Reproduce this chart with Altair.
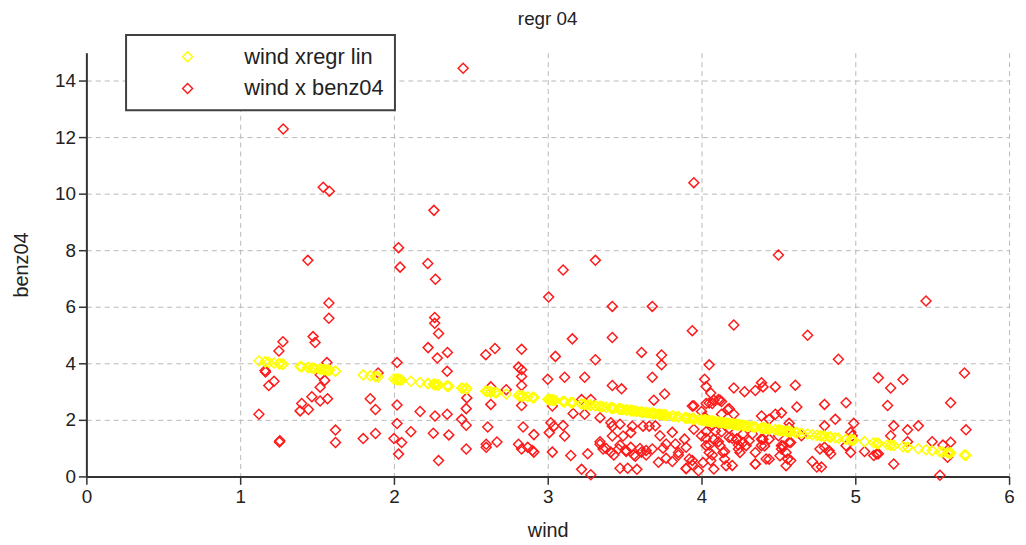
import altair as alt
import pandas as pd

# ---- data ----
wind = [
    2.45, 1.28, 1.54, 1.58, 3.95, 2.26, 1.44, 2.03, 2.04, 2.22, 2.27, 3.10, 3.31, 4.50,
    1.577, 1.577, 2.265, 2.265, 2.29, 1.278, 1.252, 1.474, 1.487, 2.222, 2.348, 2.282, 1.564, 2.02,
    1.162, 1.165, 2.346, 1.22, 1.186, 1.52, 1.55, 1.52, 1.897, 2.474, 1.466, 1.52, 1.568, 1.40,
    1.39, 1.444, 1.846, 1.88, 2.02, 2.17, 2.267, 2.346, 2.47, 2.44, 2.47, 1.122, 1.62, 1.62,
    2.02, 1.255, 1.258, 1.80, 1.88, 2.0, 2.05, 2.03, 2.11, 2.256, 2.357, 2.29, 2.47,
    3.006, 3.42, 3.68, 3.16, 3.42, 2.657, 2.597, 2.83, 3.05, 3.31, 3.61, 3.74, 2.81, 2.83,
    2.83, 2.83, 3.0, 3.11, 3.24, 3.68, 3.42, 3.48, 2.63, 2.73, 2.63, 2.83, 3.03, 3.22,
    3.28, 3.69, 3.165, 3.24, 3.34, 3.41, 2.61, 2.84, 3.02, 3.04, 3.10, 3.01, 3.11, 2.91,
    3.42, 3.42, 3.47, 3.55, 3.62, 3.66, 3.49, 3.54, 2.67, 2.6, 2.6, 2.81, 2.83, 2.87,
    2.9, 2.91, 3.03, 3.15, 3.26, 3.34, 3.36, 3.41, 3.46, 3.51, 3.54, 3.57, 3.61, 3.64,
    3.68, 3.22, 3.28, 3.47, 3.52, 3.58,
    3.94, 4.21, 3.74, 4.05, 4.02, 4.03, 4.06, 4.11, 4.13, 3.76, 3.94, 4.03, 4.07, 4.21,
    4.28, 4.35, 4.39, 4.40, 4.48, 4.17, 4.13, 4.39, 4.44, 4.48, 4.52,
    3.70, 3.73, 3.77, 3.81, 3.83, 3.85, 3.89, 3.90, 3.92, 3.90, 3.94, 3.95, 4.00, 4.03,
    4.05, 4.06, 4.08, 4.09, 4.12, 4.14, 4.15, 4.18, 4.20, 4.23, 4.24, 4.27, 4.29, 4.33,
    4.35, 4.39, 4.39, 4.42, 4.44, 4.50, 4.52, 4.56, 4.57,
    5.46, 4.69, 4.89, 5.71, 5.15, 5.31, 5.23, 4.61, 4.62, 4.80, 4.94, 5.21, 5.62, 4.57,
    4.57, 4.87, 4.80, 4.99, 5.25, 5.34, 5.41, 5.72, 5.23, 4.97, 5.34, 5.50, 5.57, 5.62,
    5.61, 5.60, 4.77, 4.80, 4.83, 4.84, 4.58, 4.72, 4.75, 4.78, 4.94, 4.97, 5.06, 5.12,
    5.15, 5.25, 5.55, 4.52, 4.55, 4.65, 5.14, 4.98,
    3.77, 3.81, 3.85, 3.90, 3.94, 4.03, 4.05, 4.07, 4.11, 4.15, 4.20, 4.24, 4.03, 4.07,
    4.13, 4.18, 3.98, 4.00, 4.02, 4.04,
    3.34, 3.38, 3.43, 3.47, 3.51, 3.56, 3.60, 3.64, 3.72, 3.75,
    4.23, 4.27, 4.31, 4.40, 4.41, 4.35, 4.25, 4.16, 4.08, 4.01, 4.35, 4.44, 4.51, 4.53,
    4.58, 4.55, 4.05, 4.08, 4.12, 4.18, 4.21, 3.95,
]
benz04 = [
    14.45, 12.3, 10.24, 10.1, 10.4, 9.42, 7.65, 8.1, 7.41, 7.54, 6.98, 7.31, 7.65, 7.84,
    6.14, 5.6, 5.63, 5.42, 5.06, 4.77, 4.44, 4.95, 4.74, 4.56, 4.39, 4.19, 4.03, 4.03,
    3.75, 3.70, 3.72, 3.37, 3.22, 3.6, 3.4, 3.16, 3.66, 2.78, 2.82, 2.67, 2.75, 2.58,
    2.32, 2.37, 2.75, 2.37, 2.53, 2.30, 2.14, 2.2, 2.40, 2.02, 1.81, 2.2, 1.64, 1.2,
    1.87, 1.22, 1.26, 1.34, 1.52, 1.34, 1.2, 0.79, 1.58, 1.53, 1.47, 0.56, 0.97,
    6.35, 6.02, 6.02, 4.87, 4.92, 4.53, 4.31, 4.5, 4.25, 4.13, 4.39, 3.95, 3.87, 3.78,
    3.54, 3.22, 3.44, 3.51, 3.51, 3.51, 3.22, 3.1, 3.17, 3.07, 2.55, 2.51, 2.49, 2.72,
    2.72, 2.7, 2.23, 2.2, 2.08, 1.9, 1.75, 1.75, 1.9, 1.78, 1.8, 1.55, 1.43, 1.48,
    1.78, 1.43, 1.85, 1.78, 1.78, 1.78, 1.43, 1.55, 1.22, 1.14, 1.03, 1.14, 0.97, 1.03,
    0.92, 0.86, 0.86, 0.74, 0.8, 1.14, 0.97, 0.86, 0.97, 0.92, 1.03, 0.71, 0.86, 0.92,
    0.97, 0.25, 0.06, 0.29, 0.29, 0.25,
    5.16, 5.36, 4.3, 3.95, 3.44, 3.18, 2.95, 2.72, 2.65, 2.92, 2.49, 2.58, 2.58, 3.13,
    3.0, 3.04, 3.32, 3.17, 3.17, 2.37, 2.2, 2.14, 2.02, 2.2, 2.25,
    1.79, 1.44, 1.15, 1.56, 1.15, 0.85, 1.32, 1.03, 0.62, 0.27, 0.56, 1.67, 1.44, 1.09,
    0.85, 0.56, 1.32, 1.61, 1.09, 0.85, 0.62, 1.38, 0.39, 1.32, 0.97, 1.50, 1.09, 1.50,
    0.44, 1.32, 1.09, 0.62, 1.32, 1.44, 0.97, 0.62, 1.73,
    6.21, 5.0, 4.15, 3.66, 3.49, 3.43, 3.13, 3.23, 2.46, 2.55, 2.61, 2.51, 2.61, 1.88,
    1.21, 2.02, 1.79, 1.88, 1.79, 1.65, 1.79, 1.65, 1.44, 1.56, 1.23, 1.23, 1.11, 1.21,
    0.85, 0.68, 0.97, 1.03, 0.91, 0.80, 0.56, 0.53, 0.33, 0.33, 1.09, 0.85, 0.88, 0.74,
    0.80, 0.44, 0.04, 1.09, 0.85, 1.44, 0.79, 1.44,
    0.64, 0.53, 0.76, 0.29, 0.41, 1.35, 1.11, 0.76, 1.23, 0.88, 1.35, 1.11, 1.58, 1.81,
    1.58, 1.70, 0.2, 2.3, 2.1, 1.9,
    1.23, 0.99, 0.76, 1.11, 0.88, 0.76, 0.99, 0.76, 0.5, 1.0,
    1.32, 1.2, 1.26, 1.32, 1.08, 0.85, 0.85, 0.38, 0.26, 0.49, 0.44, 0.61, 0.73, 1.08,
    1.2, 0.38, 2.6, 2.7, 2.7, 2.4, 2.2, 2.5,
]

# linear regression line (yellow series)
REGR_INTERCEPT = 4.90
REGR_SLOPE = -0.725

SERIES_REGR = "wind xregr lin"
SERIES_OBS = "wind x benz04"
series_names = [SERIES_REGR, SERIES_OBS]
series_colors = ["#ffff00", "#ff1a1a"]

x_ticks = [0, 1, 2, 3, 4, 5, 6]
y_ticks = [0, 2, 4, 6, 8, 10, 12, 14]

FONT = "Liberation Sans"

df = pd.DataFrame({"wind": wind, "benz04": benz04})

color_scale = alt.Scale(domain=series_names, range=series_colors)
legend = alt.Legend(
    title=None,
    orient="none",
    legendX=40,
    legendY=-18,
    symbolType="diamond",
    symbolSize=100,
    symbolStrokeWidth=1.5,
    symbolOffset=40,
    labelOffset=46,
    labelFont=FONT,
    labelFontSize=22,
    labelColor="#222222",
    padding=11,
    rowPadding=10,
    strokeColor="#404040",
    fillColor="#ffffff",
)

x_enc = alt.X(
    "wind:Q",
    scale=alt.Scale(domain=[0, 6], nice=False),
    axis=alt.Axis(values=x_ticks, title="wind", format="d", titlePadding=15, labelFlush=False),
)
y_axis = alt.Axis(values=y_ticks, title="benz04", format="d", titlePadding=23, labelFlush=False)
y_scale = alt.Scale(domain=[0, 15], nice=False)

base = alt.Chart(df)

obs = (
    base.transform_calculate(series=f"'{SERIES_OBS}'")
    .mark_point(shape="diamond", filled=False, size=100, strokeWidth=1.5, opacity=1)
    .encode(
        x=x_enc,
        y=alt.Y("benz04:Q", scale=y_scale, axis=y_axis),
        color=alt.Color("series:N", scale=color_scale, legend=legend),
    )
)

regr = (
    base.transform_calculate(
        series=f"'{SERIES_REGR}'",
        fit=f"{REGR_INTERCEPT} + ({REGR_SLOPE}) * datum.wind",
    )
    .mark_point(shape="diamond", filled=False, size=100, strokeWidth=1.5, opacity=1)
    .encode(
        x=x_enc,
        y=alt.Y("fit:Q", scale=y_scale, axis=y_axis),
        color=alt.Color("series:N", scale=color_scale, legend=legend),
    )
)

chart = (
    alt.layer(obs, regr)
    .properties(
        width=930,
        height=427,
        autosize="none",
        padding={"left": 79, "top": 43, "right": 9, "bottom": 66},
        title=alt.TitleParams(
            "regr 04",
            font=FONT,
            fontSize=19,
            fontWeight="normal",
            color="#222222",
            anchor="middle",
            offset=5,
        ),
    )
    .configure_view(strokeWidth=0)
    .configure_axis(
        domainColor="#333333",
        domainWidth=2,
        tickColor="#333333",
        tickWidth=1.5,
        tickSize=8,
        labelPadding=3,
        labelFont=FONT,
        labelFontSize=19,
        labelColor="#222222",
        titleFont=FONT,
        titleFontSize=20,
        titleFontWeight="normal",
        titleColor="#222222",
        gridColor="#b8b8b8",
        gridDash=[5, 4],
        gridWidth=1,
    )
    .configure_legend(strokeWidth=2)
)

chart.save("out.html", embed_options={"renderer": "svg", "actions": False})
